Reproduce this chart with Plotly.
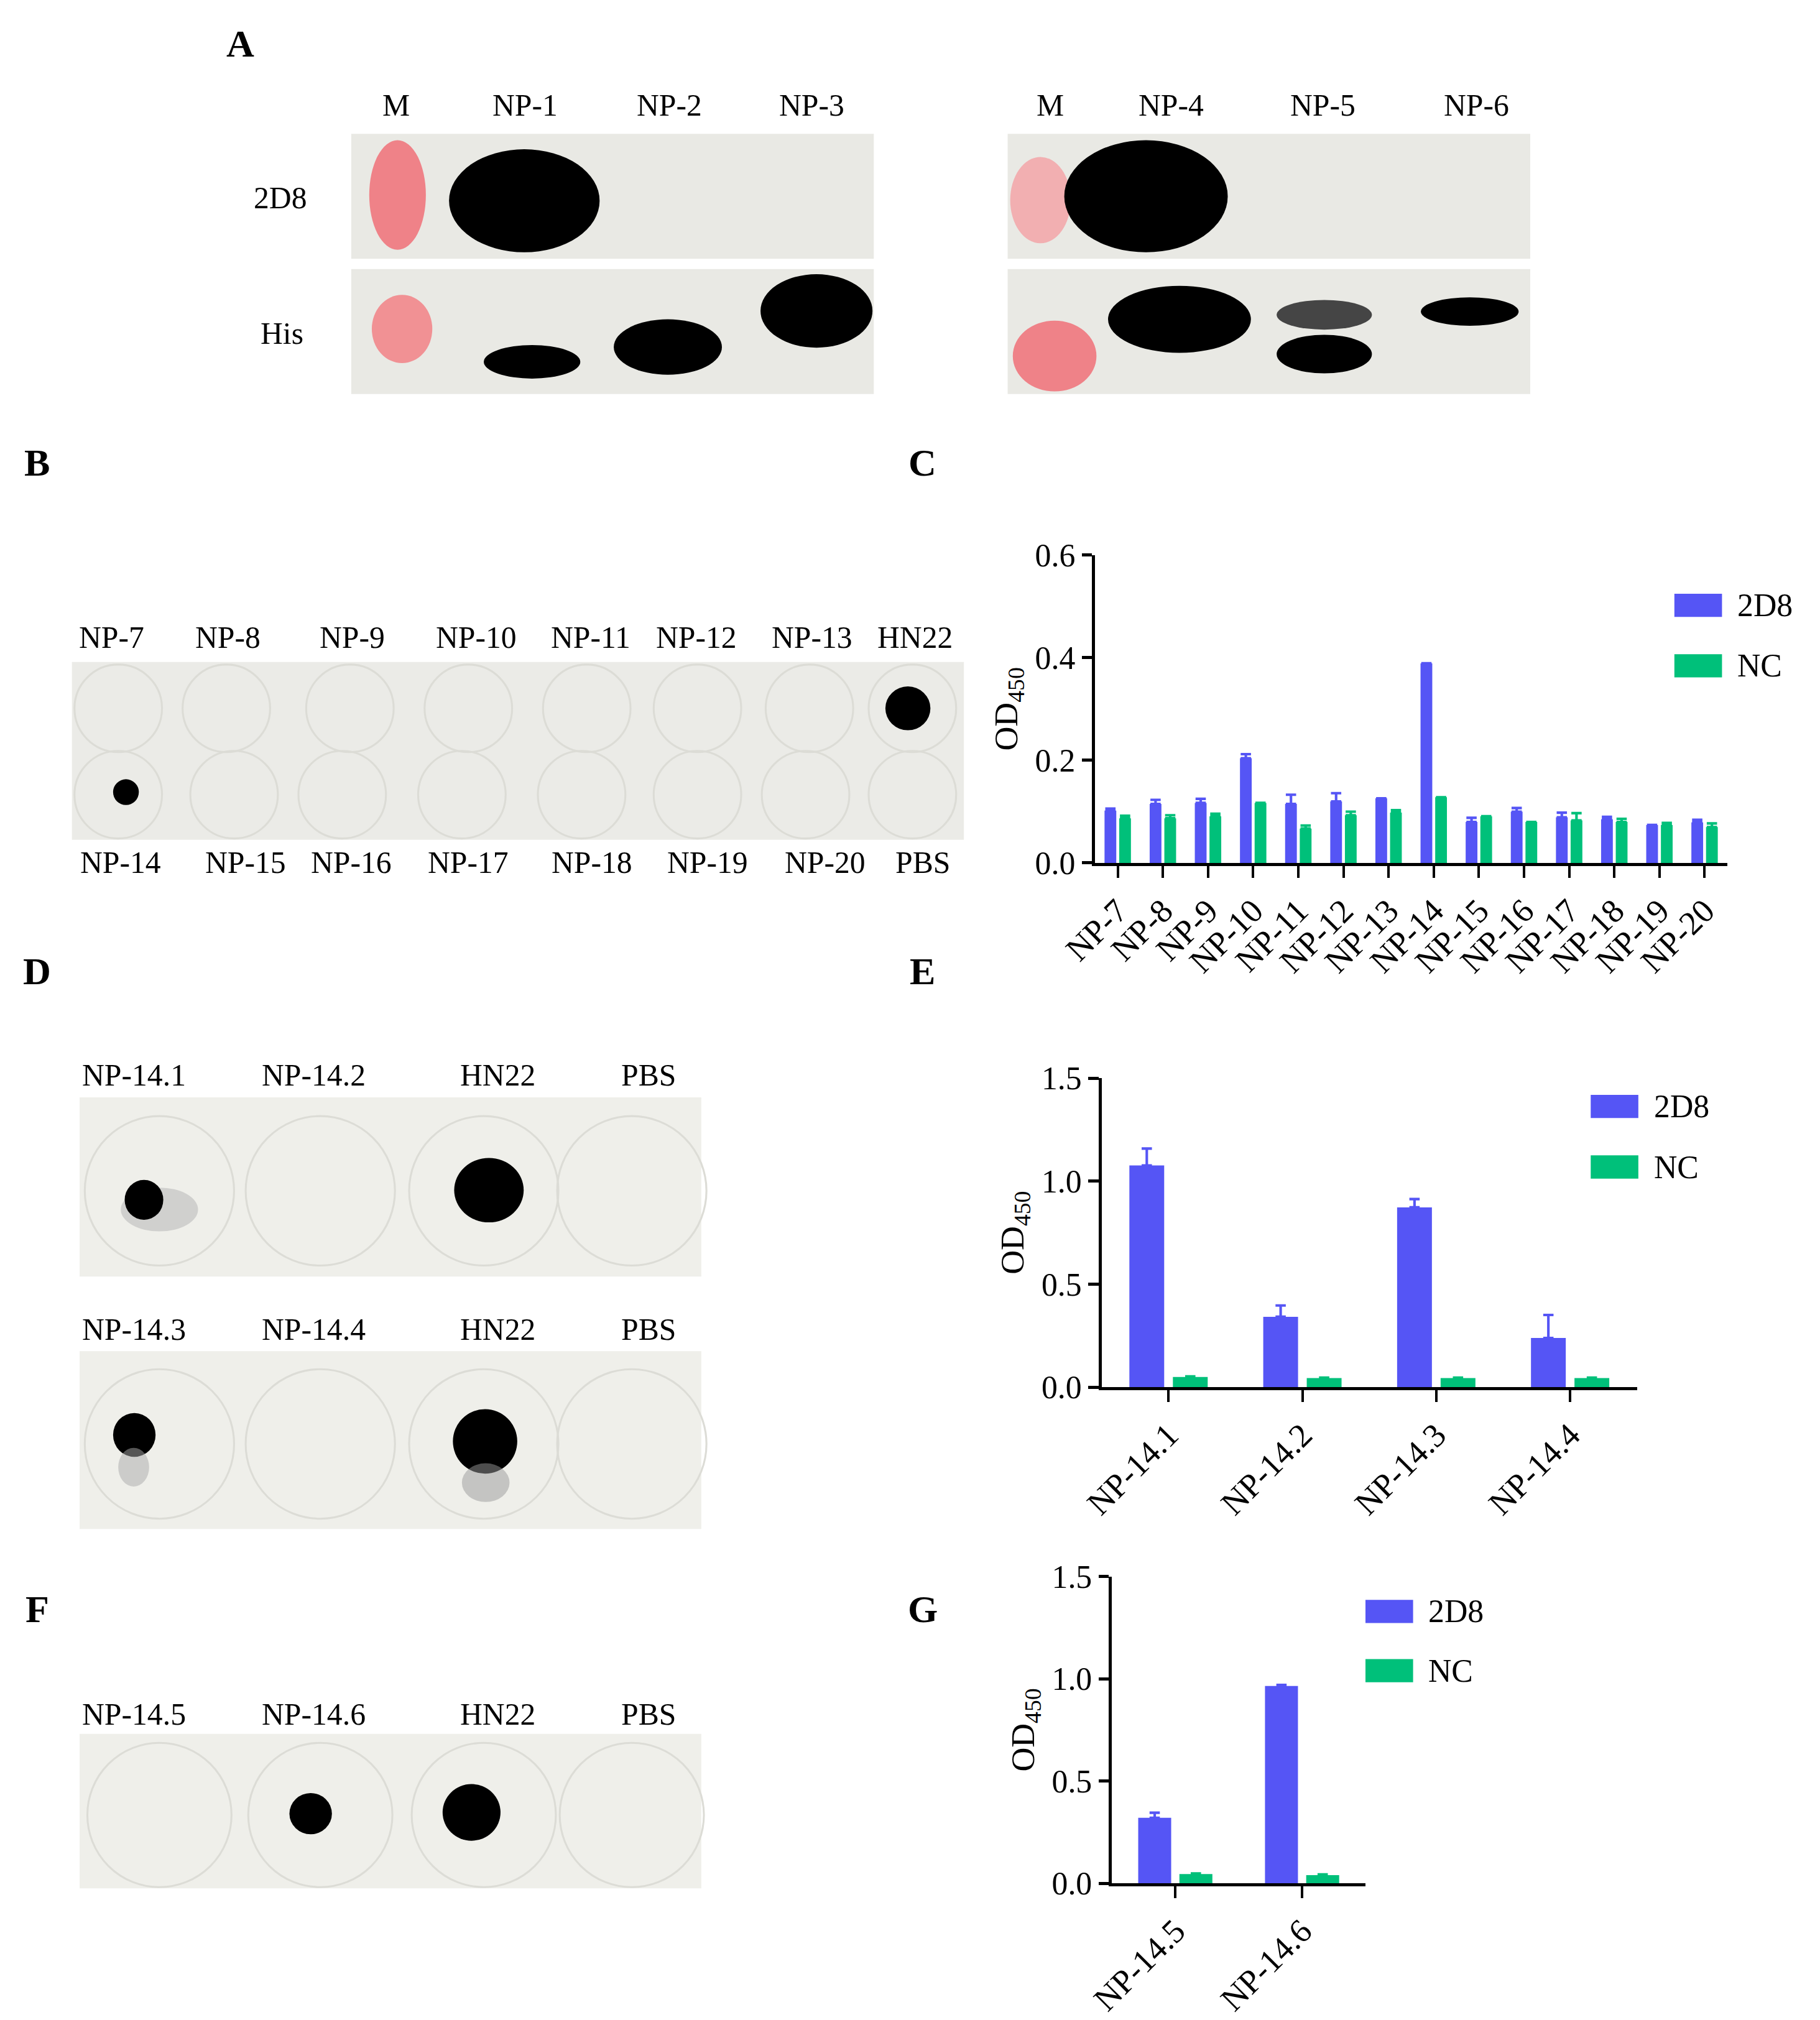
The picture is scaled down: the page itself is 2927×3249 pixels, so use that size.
import plotly.graph_objects as go

W, H = 2927, 3249
DW, DH = 1414.0, 1568.0
S = W / DW
FONT = "Liberation Serif"
BLUE = "#5555f5"
GREEN = "#00c07a"

# ---------- data ----------
c_cats = ["NP-7","NP-8","NP-9","NP-10","NP-11","NP-12","NP-13","NP-14","NP-15","NP-16","NP-17","NP-18","NP-19","NP-20"]
c_2d8 = [0.102,0.115,0.117,0.204,0.115,0.120,0.126,0.389,0.080,0.100,0.089,0.085,0.074,0.079]
c_2d8_err = [0.004,0.008,0.008,0.008,0.018,0.016,0.0,0.0,0.008,0.007,0.009,0.005,0.0,0.005]
c_nc = [0.087,0.087,0.091,0.117,0.067,0.093,0.098,0.128,0.091,0.080,0.083,0.080,0.074,0.070]
c_nc_err = [0.005,0.006,0.005,0.0,0.006,0.007,0.005,0.0,0.0,0.0,0.014,0.006,0.004,0.007]

e_cats = ["NP-14.1","NP-14.2","NP-14.3","NP-14.4"]
e_2d8 = [1.076,0.342,0.873,0.239]
e_2d8_err = [0.082,0.055,0.040,0.112]
e_nc = [0.050,0.045,0.045,0.045]
e_nc_err = [0.003,0.002,0.002,0.002]

g_cats = ["NP-14.5","NP-14.6"]
g_2d8 = [0.320,0.965]
g_2d8_err = [0.025,0.005]
g_nc = [0.045,0.040]
g_nc_err = [0.003,0.003]

series_names = ["2D8", "NC"]

def px(x): return x / DW
def py(y): return 1 - y / DH

fig = go.Figure()
shapes = []
ann = []

def rect(x0, y0, x1, y1, fill):
    shapes.append(dict(type="rect", xref="paper", yref="paper", x0=px(x0), x1=px(x1), y0=py(y1), y1=py(y0),
                       fillcolor=fill, line=dict(width=0), layer="below"))
def ell(x0, y0, x1, y1, fill, op=1.0):
    shapes.append(dict(type="circle", xref="paper", yref="paper", x0=px(x0), x1=px(x1), y0=py(y1), y1=py(y0),
                       fillcolor=fill, opacity=op, line=dict(width=0), layer="below"))
def ring(cx, cy, r):
    shapes.append(dict(type="circle", xref="paper", yref="paper", x0=px(cx-r), x1=px(cx+r), y0=py(cy+r), y1=py(cy-r),
                       fillcolor="rgba(0,0,0,0)", line=dict(width=1.5*S, color="#dcdcd6"), layer="below"))
def txt(x, y, s, size=24, bold=False, xanchor="center"):
    ann.append(dict(x=px(x), y=py(y), xref="paper", yref="paper", text=f"<b>{s}</b>" if bold else s,
                    showarrow=False, xanchor=xanchor, yanchor="middle",
                    font=dict(family=FONT, size=size*S, color="black")))

charts = [
    ("", c_cats, c_2d8, c_2d8_err, c_nc, c_nc_err, (855, 1338), (427, 666), [0, 0.6], [0, 0.2, 0.4, 0.6], (1297, 466, 513)),
    ("2", e_cats, e_2d8, e_2d8_err, e_nc, e_nc_err, (860, 1268), (833, 1073), [0, 1.5], [0, 0.5, 1.0, 1.5], (1232, 855, 902)),
    ("3", g_cats, g_2d8, g_2d8_err, g_nc, g_nc_err, (868, 1057), (1220, 1458), [0, 1.5], [0, 0.5, 1.0, 1.5], (1057, 1247, 1293)),
]

layout = {}
for sfx, cats, a, ae, b, be, (x0, x1), (y0, y1), rng, tv, (lx, ly1, ly2) in charts:
    xa = "x" + sfx
    ya = "y" + sfx
    for name, vals, err, col in [(series_names[0], a, ae, BLUE), (series_names[1], b, be, GREEN)]:
        fig.add_trace(go.Bar(
            x=cats, y=vals, name=name, marker_color=col, marker_line_width=0, showlegend=False,
            error_y=dict(type="data", array=err, arrayminus=[0]*len(err), symmetric=False,
                         color=col, thickness=2*S, width=4*S),
            xaxis=xa, yaxis=ya))
    layout["xaxis" + sfx] = dict(domain=[px(x0 - 8), px(x1)], anchor=ya, showline=True, linecolor="black",
                               linewidth=2.5*S, ticks="outside", ticklen=9*S, tickwidth=2*S, tickcolor="black",
                               tickangle=-45, tickfont=dict(family=FONT, size=26*S, color="black"),
                               showgrid=False, zeroline=False, automargin=False)
    layout["yaxis" + sfx] = dict(domain=[py(y1), py(y0)], anchor=xa, range=rng, tickvals=tv,
                               ticktext=[f"{v:.1f}" for v in tv], showline=True, linecolor="black",
                               linewidth=2.5*S, ticks="outside", ticklen=8*S, tickwidth=2.5*S, tickcolor="black",
                               tickfont=dict(family=FONT, size=25*S, color="black"), showgrid=False, zeroline=False,
                               automargin=False,
                               title=dict(text="OD<sub>450</sub>", font=dict(family=FONT, size=26*S, color="black"), standoff=6*S))
    for (yy, col, nm) in [(ly1, BLUE, series_names[0]), (ly2, GREEN, series_names[1])]:
        rect(lx, yy - 9, lx + 37, yy + 9, col)
        txt(lx + 48, yy, nm, size=25, xanchor="left")

fig.update_layout(**layout)
fig.update_layout(barmode="group", bargap=0.35, bargroupgap=0.2)

# Panel A
BG = "#e9e9e4"
for bx in (269, 779):
    rect(bx, 100, bx+406, 197, BG)
    rect(bx, 205, bx+406, 302, BG)
ell(283, 105, 327, 190, "#f07078", 0.85)
ell(345, 112, 462, 192, "black")
ell(285, 225, 332, 278, "#f27a80", 0.8)
ell(372, 264, 447, 290, "black")
ell(473, 244, 557, 287, "black")
ell(587, 209, 674, 266, "black")
ell(781, 118, 828, 185, "#f4a0a4", 0.8)
ell(823, 105, 950, 192, "black")
ell(783, 245, 848, 300, "#f07078", 0.85)
ell(857, 218, 968, 270, "black")
ell(988, 229, 1062, 252, "#333333", 0.9)
ell(988, 256, 1062, 286, "black")
ell(1100, 227, 1176, 249, "black")

# Panel B
rect(52, 510, 745, 648, "#ebebe7")
top_x = [83, 173, 270, 366, 455, 537, 627, 707]
bot_x = [90, 187, 269, 360, 456, 546, 637, 713]
for x in [88, 172, 268, 360, 452, 538, 625, 705]: ring(x, 546, 34)
for x in [88, 178, 262, 355, 448, 538, 622, 705]: ring(x, 613, 34)
ell(684, 529, 719, 563, "black")
ell(84, 601, 104, 621, "black")

# Panel D & F
for (yt, yb) in [(848, 987), (1045, 1183), (1342, 1462)]:
    rect(58, yt, 541, yb, "#efefea")
    cy = (yt + yb) / 2
    r = min(58, (yb - yt) / 2 - 4)
    for x in (120, 245, 372, 487):
        ring(x, cy + 3, r)
ell(90, 918, 150, 952, "#bbbbbb", 0.6)
ell(93, 912, 123, 943, "black")
ell(349, 895, 403, 945, "black")
ell(84, 1093, 117, 1127, "black")
ell(88, 1120, 112, 1150, "#aaaaaa", 0.5)
ell(348, 1090, 398, 1140, "black")
ell(355, 1132, 392, 1162, "#999999", 0.5)
ell(221, 1388, 254, 1420, "black")
ell(340, 1381, 385, 1425, "black")

for x, s in zip([304, 404, 516, 627, 812, 906, 1024, 1143], ["M","NP-1","NP-2","NP-3","M","NP-4","NP-5","NP-6"]):
    txt(x, 78, s)
txt(214, 150, "2D8"); txt(215, 255, "His")
for x, s in zip(top_x, ["NP-7","NP-8","NP-9","NP-10","NP-11","NP-12","NP-13","HN22"]):
    txt(x, 491, s)
for x, s in zip(bot_x, ["NP-14","NP-15","NP-16","NP-17","NP-18","NP-19","NP-20","PBS"]):
    txt(x, 666, s)
for y, lab in [(831, ["NP-14.1","NP-14.2","HN22","PBS"]), (1028, ["NP-14.3","NP-14.4","HN22","PBS"]),
               (1327, ["NP-14.5","NP-14.6","HN22","PBS"])]:
    for x, s in zip([100, 240, 383, 500], lab):
        txt(x, y, s)
for x, y, s in [(183, 30, "A"), (25, 355, "B"), (713, 355, "C"), (25, 750, "D"), (713, 750, "E"), (25, 1245, "F"), (713, 1245, "G")]:
    txt(x, y, s, size=30, bold=True)

fig.update_layout(shapes=shapes, annotations=ann)
fig.update_layout(width=W, height=H, margin=dict(l=0, r=0, t=0, b=0, autoexpand=False), paper_bgcolor="white",
                  plot_bgcolor="white", showlegend=False, font=dict(family=FONT))
fig.write_html("out.html")
